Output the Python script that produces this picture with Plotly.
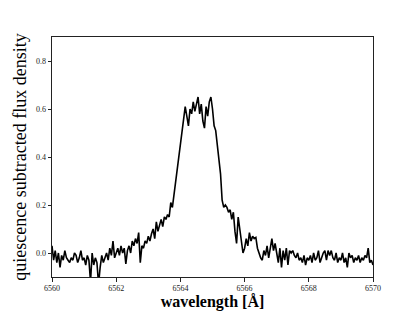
import plotly.graph_objects as go

wavelength = [
    6560.00, 6560.05, 6560.10, 6560.15, 6560.20, 6560.25, 6560.30, 6560.35, 6560.40, 6560.45,
    6560.50, 6560.55, 6560.60, 6560.65, 6560.70, 6560.75, 6560.80, 6560.85, 6560.90, 6560.95,
    6561.00, 6561.05, 6561.10, 6561.15, 6561.20, 6561.25, 6561.30, 6561.35, 6561.40, 6561.45,
    6561.50, 6561.55, 6561.60, 6561.65, 6561.70, 6561.75, 6561.80, 6561.85, 6561.90, 6561.95,
    6562.00, 6562.05, 6562.10, 6562.15, 6562.20, 6562.25, 6562.30, 6562.35, 6562.40, 6562.45,
    6562.50, 6562.55, 6562.60, 6562.65, 6562.70, 6562.75, 6562.80, 6562.85, 6562.90, 6562.95,
    6563.00, 6563.05, 6563.10, 6563.15, 6563.20, 6563.25, 6563.30, 6563.35, 6563.40, 6563.45,
    6563.50, 6563.55, 6563.60, 6563.65, 6563.70, 6563.75, 6563.80, 6563.85, 6563.90, 6563.95,
    6564.00, 6564.05, 6564.10, 6564.15, 6564.20, 6564.25, 6564.30, 6564.35, 6564.40, 6564.45,
    6564.50, 6564.55, 6564.60, 6564.65, 6564.70, 6564.75, 6564.80, 6564.85, 6564.90, 6564.95,
    6565.00, 6565.05, 6565.10, 6565.15, 6565.20, 6565.25, 6565.30, 6565.35, 6565.40, 6565.45,
    6565.50, 6565.55, 6565.60, 6565.65, 6565.70, 6565.75, 6565.80, 6565.85, 6565.90, 6565.95,
    6566.00, 6566.05, 6566.10, 6566.15, 6566.20, 6566.25, 6566.30, 6566.35, 6566.40, 6566.45,
    6566.50, 6566.55, 6566.60, 6566.65, 6566.70, 6566.75, 6566.80, 6566.85, 6566.90, 6566.95,
    6567.00, 6567.05, 6567.10, 6567.15, 6567.20, 6567.25, 6567.30, 6567.35, 6567.40, 6567.45,
    6567.50, 6567.55, 6567.60, 6567.65, 6567.70, 6567.75, 6567.80, 6567.85, 6567.90, 6567.95,
    6568.00, 6568.05, 6568.10, 6568.15, 6568.20, 6568.25, 6568.30, 6568.35, 6568.40, 6568.45,
    6568.50, 6568.55, 6568.60, 6568.65, 6568.70, 6568.75, 6568.80, 6568.85, 6568.90, 6568.95,
    6569.00, 6569.05, 6569.10, 6569.15, 6569.20, 6569.25, 6569.30, 6569.35, 6569.40, 6569.45,
    6569.50, 6569.55, 6569.60, 6569.65, 6569.70, 6569.75, 6569.80, 6569.85, 6569.90, 6569.95,
    6570.00,
]

flux = [
    0.03, -0.03, 0.01, -0.04, 0.00, -0.06, -0.01, -0.03, 0.01, -0.02,
    -0.03, -0.04, -0.02, -0.03, 0.00, -0.01, -0.04, -0.02, 0.01, -0.03,
    -0.02, -0.05, -0.01, -0.03, -0.12, 0.00, -0.05, -0.02, -0.04, -0.13,
    -0.06, -0.01, -0.04, -0.02, 0.00, -0.03, 0.02, -0.01, 0.05, -0.02,
    0.00, 0.02, -0.01, 0.03, 0.00, 0.02, -0.045, 0.01, 0.03, 0.00,
    0.05, 0.03, 0.06, 0.04, 0.085, -0.04, 0.03, 0.02, 0.05, 0.04,
    0.07, 0.05, 0.08, 0.10, 0.06, 0.13, 0.09, 0.12, 0.14, 0.11,
    0.15, 0.14, 0.16, 0.15, 0.21, 0.19, 0.24, 0.31, 0.36, 0.41,
    0.45, 0.50, 0.56, 0.61, 0.57, 0.53, 0.60, 0.58, 0.63, 0.59,
    0.62, 0.65, 0.58, 0.62, 0.55, 0.52, 0.61, 0.57, 0.63, 0.65,
    0.60, 0.53, 0.51, 0.45, 0.41, 0.33, 0.22, 0.19, 0.20, 0.19,
    0.17, 0.18, 0.14, 0.17, 0.09, 0.04, 0.15, 0.10, 0.05, 0.00,
    0.02, 0.06, 0.03, 0.085, 0.05, 0.07, 0.06, 0.065, 0.02, 0.00,
    -0.02, -0.03, 0.01, -0.01, 0.03, -0.02, 0.02, 0.06, 0.01, 0.04,
    0.00, -0.04, 0.02, -0.06, 0.01, -0.03, 0.02, -0.05, 0.01, 0.00,
    0.01, -0.01, -0.02, 0.00, -0.03, -0.02, -0.04, -0.01, -0.05, -0.02,
    -0.03, -0.01, -0.04, 0.00, -0.03, -0.02, 0.01, -0.04, -0.02, 0.00,
    0.01, -0.03, 0.01, -0.01, 0.01, -0.02, -0.03, 0.00, -0.04, -0.02,
    -0.03, 0.00, -0.04, -0.02, -0.06, 0.00, -0.02, -0.01, -0.04, -0.02,
    -0.03, -0.01, -0.04, -0.02, -0.03, -0.01, -0.02, 0.02, -0.04, -0.03,
    -0.05,
]

x_ticks = [6560, 6562, 6564, 6566, 6568, 6570]
x_tick_labels = ["6560", "6562", "6564", "6566", "6568", "6570"]
y_ticks = [0.0, 0.2, 0.4, 0.6, 0.8]
y_tick_labels = ["0.0", "0.2", "0.4", "0.6", "0.8"]

x_title = "wavelength [Å]"
y_title = "quiescence subtracted flux density"

FONT = "Liberation Serif, DejaVu Serif, serif"

fig = go.Figure(
    go.Scatter(x=wavelength, y=flux, mode="lines",
               line=dict(color="black", width=1.6), showlegend=False)
)

axis_common = dict(
    showline=True, linecolor="#222", linewidth=1, mirror=True,
    showgrid=False, zeroline=False, automargin=False,
    ticks="outside", ticklen=3.5, tickwidth=0.8, tickcolor="#222",
    tickfont=dict(family=FONT, size=8, color="#222"),
)

# page body adds an 8px offset, so the figure is 8px smaller
fig.update_layout(
    width=407, height=303,
    margin=dict(l=44, r=42, t=29, b=34),
    paper_bgcolor="white", plot_bgcolor="white",
    xaxis=dict(range=[6560, 6570], tickvals=x_ticks, ticktext=x_tick_labels,
               title=dict(text="<b>" + x_title + "</b>",
                          font=dict(family=FONT, size=16, color="black"), standoff=3),
               **axis_common),
    yaxis=dict(range=[-0.1, 0.9], tickvals=y_ticks, ticktext=y_tick_labels,
               title=dict(text=y_title,
                          font=dict(family=FONT, size=18, color="black"), standoff=4),
               **axis_common),
)

fig.write_html("out.html")
